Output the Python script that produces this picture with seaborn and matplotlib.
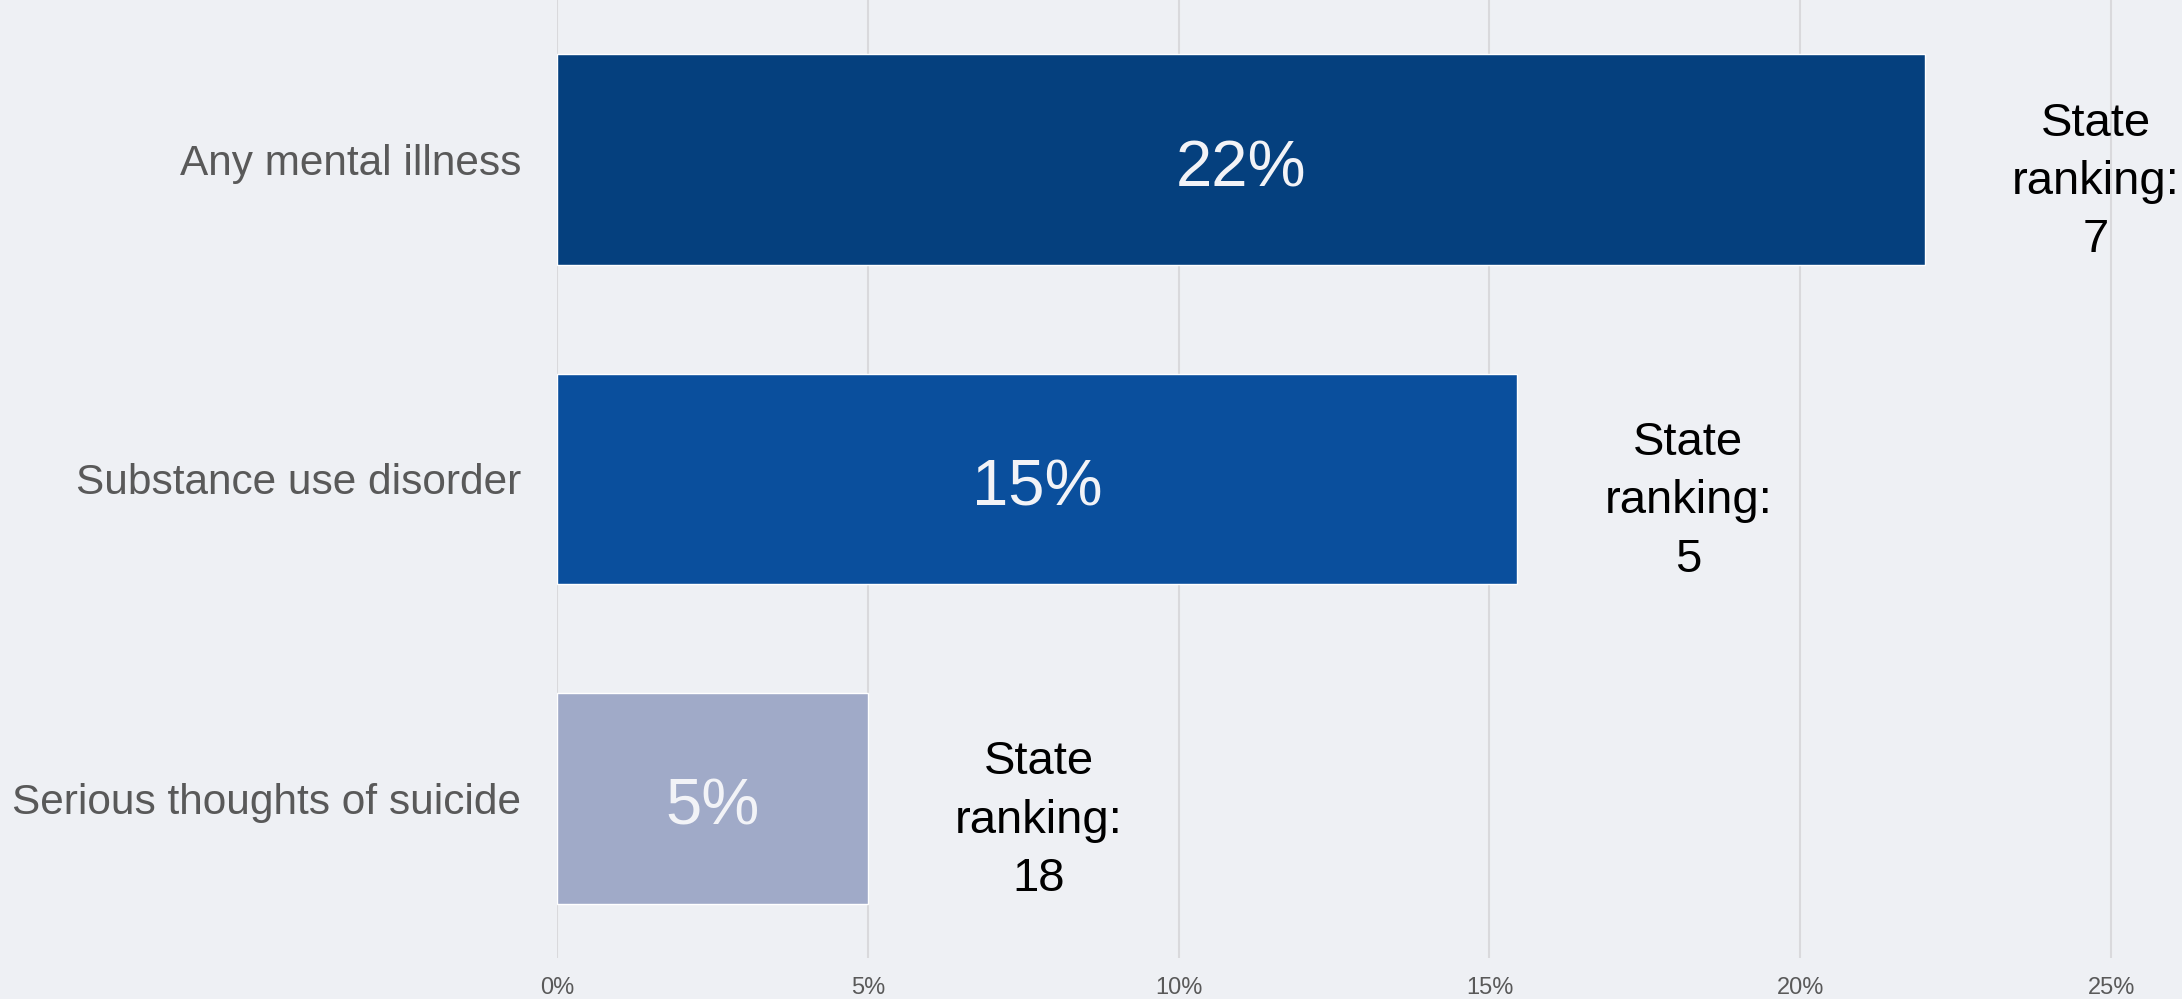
import pandas as pd
import numpy as np
import matplotlib.pyplot as plt
import seaborn as sns

categories = ["Any mental illness", "Substance use disorder", "Serious thoughts of suicide"]
values = [22.0, 15.45, 5.0]
value_labels = ["22%", "15%", "5%"]
state_rank = [7, 5, 18]
bar_colors = ["#05407E", "#0A4F9D", "#A0AAC8"]
x_ticks = [0, 5, 10, 15, 20, 25]
x_tick_labels = ["0%", "5%", "10%", "15%", "20%", "25%"]

BG = "#EEF0F4"
sns.set_style("white")
plt.rcParams["font.family"] = ["Liberation Sans", "DejaVu Sans"]

df = pd.DataFrame({"cat": categories, "val": values})

fig = plt.figure(figsize=(21.82, 9.99), dpi=100, facecolor=BG)
ax = fig.add_axes([557/2182, 41/999, 1 - 557/2182, 958/999])
ax.set_facecolor(BG)

sns.barplot(data=df, y="cat", x="val", hue="cat", palette=bar_colors,
            order=categories, hue_order=categories, orient="h", saturation=1,
            width=0.66, dodge=False, legend=False, ax=ax, zorder=2)

ax.set_xlim(0, 26.14)
ax.set_ylim(2.5, -0.5)
ax.set_xticks(x_ticks)
ax.set_xticklabels(x_tick_labels, fontsize=17, color="#595959")
ax.tick_params(axis="x", length=0, pad=14)
ax.tick_params(axis="y", length=0, pad=26, labelsize=30.5, labelcolor="#595959")
ax.grid(axis="x", color="#D9D9DC", linewidth=1.5, zorder=0)
ax.set_axisbelow(True)
ax.set_xlabel("")
ax.set_ylabel("")
for s in ax.spines.values():
    s.set_visible(False)

for i, (v, lab, r) in enumerate(zip(values, value_labels, state_rank)):
    ax.text(v / 2, i + 0.03, lab, ha="center", va="center", fontsize=47, color="#F2F3F7")
    ax.text(v + 2.75, i + 0.07, f"State\nranking:\n{r}", ha="center", va="center",
            fontsize=34, color="black", linespacing=1.42, clip_on=False)

fig.savefig("out.png", dpi=100, facecolor=BG)
